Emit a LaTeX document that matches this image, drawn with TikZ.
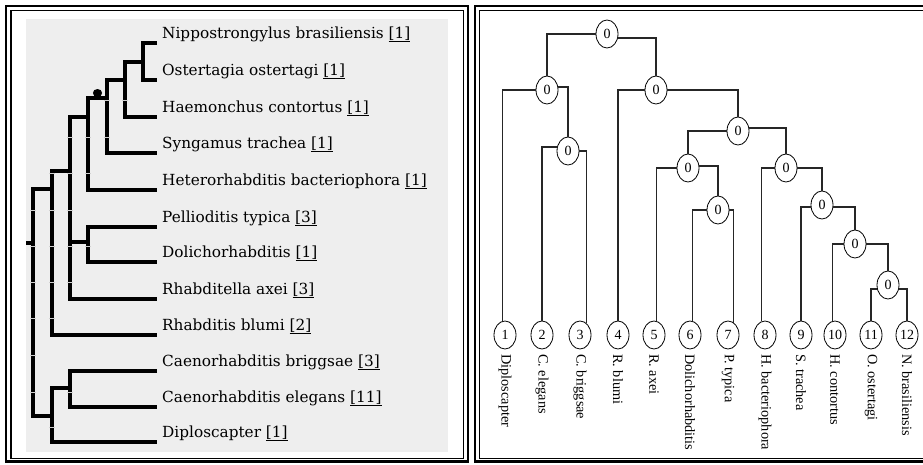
\documentclass[tikz,border=0pt]{standalone}
\usepackage{fontspec}
\setmainfont{Liberation Serif}
\newfontfamily\treefont{DejaVu Serif}
\usetikzlibrary{shapes.geometric}
\definecolor{panelbg}{HTML}{EEEEEE}
\begin{document}
\begin{tikzpicture}[x=1pt,y=-1pt,
  branch/.style={line width=4pt,line join=miter},
  gapmark/.style={line width=0.9pt,draw=black!18},
  taxon/.style={anchor=base west,inner sep=0pt,font=\treefont\fontsize{15.3}{18}\selectfont},
  hnode/.style={ellipse,draw,line width=0.8pt,minimum width=22pt,minimum height=28pt,inner sep=0pt,font=\fontsize{14}{14}\selectfont},
  link/.style={line width=1.1pt,draw=black!85},
  leafname/.style={rotate=-90,anchor=west,inner sep=0pt,font=\fontsize{14.3}{14.3}\selectfont},
  frameouter/.style={line width=2.8pt},
  frameinner/.style={line width=1.3pt}]
\useasboundingbox (0,0) rectangle (923,464);

% ---------- panel frames ----------
\draw[frameouter] (6,6) rectangle (468,461.5);
\draw[frameinner] (11,10.5) rectangle (463.3,458.3);
\draw[frameouter] (475,6) rectangle (940,461.5);
\draw[frameinner] (479.5,10.5) rectangle (935,458.3);
\fill[panelbg] (26,19) rectangle (448,452);

% ---------- left cladogram ----------
% leaf tips
\coordinate (tN)  at (157,43);
\coordinate (tO)  at (157,80);
\coordinate (tH)  at (157,117);
\coordinate (tS)  at (157,153);
\coordinate (tHe) at (157,190);
\coordinate (tP)  at (157,227);
\coordinate (tD)  at (157,262);
\coordinate (tRa) at (157,299);
\coordinate (tRb) at (157,335);
\coordinate (tCb) at (157,371);
\coordinate (tCe) at (157,407);
\coordinate (tDi) at (157,442);
% internal nodes (vertical bar x, attachment y)
\coordinate (c1) at (143,62);
\coordinate (c2) at (125,80);
\coordinate (c3) at (107,98);
\coordinate (c4) at (88,117);
\coordinate (c5) at (88,242);
\coordinate (c6) at (70,171);
\coordinate (c7) at (52,189);
\coordinate (c8) at (70,388);
\coordinate (c9) at (52,416);
\coordinate (r0) at (33,243);
\coordinate (rs) at (26,243);

\draw[branch] (tN) -| (c1) |- (tO);
\draw[branch] (c1) -| (c2) |- (tH);
\draw[branch] (c2) -| (c3) |- (tS);
\draw[branch] (c3) -| (c4) |- (tHe);
\draw[branch] (tP) -| (c5) |- (tD);
\draw[branch] (c4) -| (c6) |- (tRa);
\draw[branch] (c6) |- (c5);
\draw[branch] (c6) -| (c7) |- (tRb);
\draw[branch] (tCb) -| (c8) |- (tCe);
\draw[branch] (c8) -| (c9) |- (tDi);
\draw[branch] (c7) -| (r0) |- (c9);
\draw[branch] (rs) -- (r0);

% light row seams crossing the bars
\foreach \x/\y in {125/100,107/100,107/137,88/137,88/173,70/137,70/173,70/210,70/246,70/282,
                   52/173,52/210,52/246,52/282,52/318,33/210,33/246,33/282,33/318,33/355,33/392,
                   88/246,70/392,52/427}
  \draw[gapmark] (\x-2.6,\y) -- (\x+2.6,\y);

% node marker
\fill (97.5,93) ellipse (4.6 and 4);

% taxon names
\node[taxon] (nN)  at (162,38)  {Nippostrongylus brasiliensis \underline{[1]}};
\node[taxon] (nO)  at (162,75)  {Ostertagia ostertagi \underline{[1]}};
\node[taxon] (nH)  at (162,112) {Haemonchus contortus \underline{[1]}};
\node[taxon] (nS)  at (162,148) {Syngamus trachea \underline{[1]}};
\node[taxon] (nHe) at (162,185) {Heterorhabditis bacteriophora \underline{[1]}};
\node[taxon] (nP)  at (162,222) {Pellioditis typica \underline{[3]}};
\node[taxon] (nD)  at (162,257) {Dolichorhabditis \underline{[1]}};
\node[taxon] (nRa) at (162,294) {Rhabditella axei \underline{[3]}};
\node[taxon] (nRb) at (162,330) {Rhabditis blumi \underline{[2]}};
\node[taxon] (nCb) at (162,366) {Caenorhabditis briggsae \underline{[3]}};
\node[taxon] (nCe) at (162,402) {Caenorhabditis elegans \underline{[11]}};
\node[taxon] (nDi) at (162,437) {Diploscapter \underline{[1]}};

% ---------- right tree ----------
\node[hnode] (A) at (607,34)  {0};
\node[hnode] (B) at (547,90)  {0};
\node[hnode] (C) at (568,151) {0};
\node[hnode] (D) at (656,90)  {0};
\node[hnode] (E) at (738,131) {0};
\node[hnode] (F) at (688,168) {0};
\node[hnode] (G) at (718,210) {0};
\node[hnode] (H) at (786,168) {0};
\node[hnode] (I) at (822,205) {0};
\node[hnode] (J) at (855,244) {0};
\node[hnode] (K) at (888,285) {0};

\foreach \i/\x/\name in {1/505/Diploscapter,2/542/C. elegans,3/580/C. briggsae,4/618/R. blumi,
    5/654/R. axei,6/690/Dolichorhabditis,7/728/P. typica,8/765/H. bacteriophora,
    9/801/S. trachea,10/835/H. contortus,11/871/O. ostertagi,12/907/N. brasiliensis}{
  \node[hnode] (L\i) at (\x,335) {\i};
  \node[leafname] (T\i) at (\x,354) {\name};
}

\draw[link] (A.west) -| (B.north);
\draw[link] (A.-20) -| (D.north);
\draw[link] (B.west) -| (L1.100);
\draw[link] (B.15) -| (C.north);
\draw[link] (C.160) -| (L2.north);
\draw[link] (C.east) -| (L3.60);
\draw[link] (D.west) -| (L4.north);
\draw[link] (D.east) -| (E.north);
\draw[link] (E.west) -| (F.north);
\draw[link] (E.15) -| (H.north);
\draw[link] (F.west) -| (L5.80);
\draw[link] (F.10) -| (G.north);
\draw[link] (G.west) -| (L6.80);
\draw[link] (G.east) -| (L7.65);
\draw[link] (H.west) -| (L8.105);
\draw[link] (H.east) -| (I.north);
\draw[link] (I.190) -| (L9.north);
\draw[link] (I.-10) -| (J.north);
\draw[link] (J.west) -| (L10.100);
\draw[link] (J.east) -| (K.north);
\draw[link] (K.200) -| (L11.north);
\draw[link] (K.-20) -| (L12.north);
\end{tikzpicture}
\end{document}
